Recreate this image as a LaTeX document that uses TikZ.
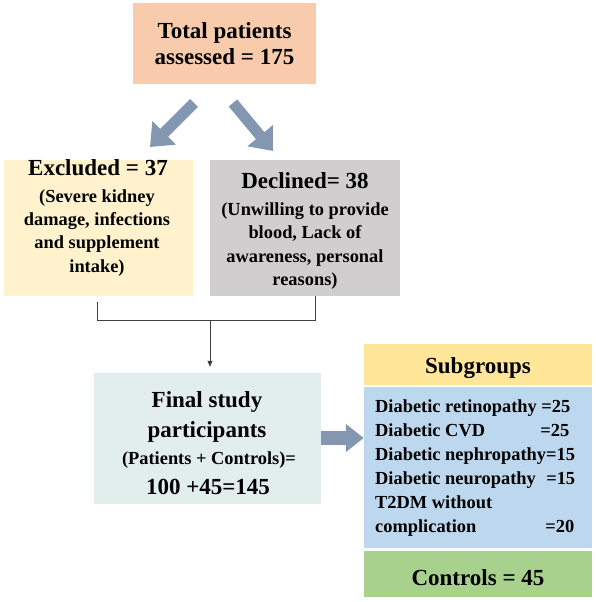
\documentclass[tikz,border=0pt]{standalone}
\usepackage{fontspec}
\setmainfont{Liberation Serif}
\usetikzlibrary{arrows.meta}
\definecolor{peach}{HTML}{F8CBAD}
\definecolor{paleyellow}{HTML}{FFF2CC}
\definecolor{palegray}{HTML}{D0CECE}
\definecolor{paleteal}{HTML}{E2EEEC}
\definecolor{subyellow}{HTML}{FFE699}
\definecolor{subblue}{HTML}{BDD7EE}
\definecolor{subgreen}{HTML}{A9D18E}
\definecolor{arrowblue}{HTML}{8497B0}
\definecolor{connline}{HTML}{404040}
\newcommand{\listline}[2]{\makebox[200pt][l]{#1\hfill#2}}
\tikzset{
  boxshape/.style={rectangle, draw=none, inner sep=0pt, minimum width=#1},
  bigtxt/.style={inner sep=0pt, anchor=base, font=\fontsize{23}{27}\selectfont\bfseries},
  smalltxt/.style={inner sep=0pt, anchor=base, font=\fontsize{18.4}{23}\selectfont\bfseries},
  listtxt/.style={inner sep=0pt, anchor=base west, font=\fontsize{18.4}{23}\selectfont\bfseries},
  blockarrow/.style={draw=arrowblue, line width=#1, line cap=butt},
  conn/.style={draw=connline, line width=0.8pt}
}
\begin{document}
\begin{tikzpicture}[x=1pt,y=-1pt]
\useasboundingbox (0,0) rectangle (596,602);

% boxes
\node[boxshape=183pt, minimum height=81pt, fill=peach] (total) at (224.5,43.5) {};
\node[boxshape=189pt, minimum height=136pt, fill=paleyellow] (excl) at (98.5,228) {};
\node[boxshape=190pt, minimum height=136pt, fill=palegray] (decl) at (305,228) {};
\node[boxshape=227pt, minimum height=131pt, fill=paleteal] (final) at (207.5,438.5) {};
\node[boxshape=228pt, minimum height=41pt, fill=subyellow] (subg) at (478,364.5) {};
\node[boxshape=228pt, minimum height=161pt, fill=subblue] (list) at (478,467.5) {};
\node[boxshape=228pt, minimum height=46pt, fill=subgreen] (ctrl) at (478,574) {};

% texts
\node[bigtxt] (t1) at (224.5,38) {Total patients};
\node[bigtxt] (t2) at (224.5,65) {assessed = 175};

\node[bigtxt] (e1) at (98,175) {Excluded = 37};
\node[smalltxt] (e2) at (97,202) {(Severe kidney};
\node[smalltxt] (e3) at (97,225) {damage, infections};
\node[smalltxt] (e4) at (97,248) {and supplement};
\node[smalltxt] (e5) at (97,272) {intake)};

\node[bigtxt] (d1) at (305,188) {Declined= 38};
\node[smalltxt] (d2) at (305,215) {(Unwilling to provide};
\node[smalltxt] (d3) at (305,238) {blood, Lack of};
\node[smalltxt] (d4) at (305,262) {awareness, personal};
\node[smalltxt] (d5) at (305,285) {reasons)};

\node[bigtxt] (f1) at (207,407) {Final study};
\node[bigtxt] (f2) at (207,437) {participants};
\node[smalltxt] (f3) at (209,464) {(Patients + Controls)=};
\node[bigtxt] (f4) at (208,494) {100 +45=145};

\node[bigtxt] (s1) at (478,373) {Subgroups};
\node[listtxt] (l1) at (375,412) {Diabetic retinopathy =25};
\node[listtxt] (l2) at (375,436) {\listline{Diabetic CVD}{=25\hspace*{6pt}}};
\node[listtxt] (l3) at (375,460) {Diabetic nephropathy=15};
\node[listtxt] (l4) at (375,484) {\listline{Diabetic neuropathy}{=15}};
\node[listtxt] (l5) at (375,508) {T2DM without};
\node[listtxt] (l6) at (375,532) {\listline{complication}{=20\hspace*{1pt}}};
\node[bigtxt] (c1) at (478,585) {Controls = 45};

% block arrows
\coordinate (aLs) at (194,103);
\coordinate (aLe) at (150,147);
\coordinate (aRs) at (233,103);
\coordinate (aRe) at (273,151);
\draw[blockarrow=11pt, -{Triangle[length=20pt,width=32pt]}, arrowblue] (aLs) -- (aLe);
\draw[blockarrow=11pt, -{Triangle[length=20pt,width=32pt]}, arrowblue] (aRs) -- (aRe);
\coordinate (aHs) at (final.east |- 0,438);
\coordinate (aHe) at (list.west |- 0,438);
\draw[blockarrow=14pt, -{Triangle[length=18pt,width=27pt]}, arrowblue] (aHs) -- (aHe);

% bracket connector
\coordinate (brL) at (97,302);
\coordinate (brJ) at (315,320);
\coordinate (brR) at (315,296);
\coordinate (brM) at (210,320);
\draw[conn] (brL) |- (brJ) -- (brR);
\draw[conn, -{Triangle[length=6pt,width=5pt]}, shorten >=6pt] (brM) -- (brM |- final.north);
\end{tikzpicture}
\end{document}
